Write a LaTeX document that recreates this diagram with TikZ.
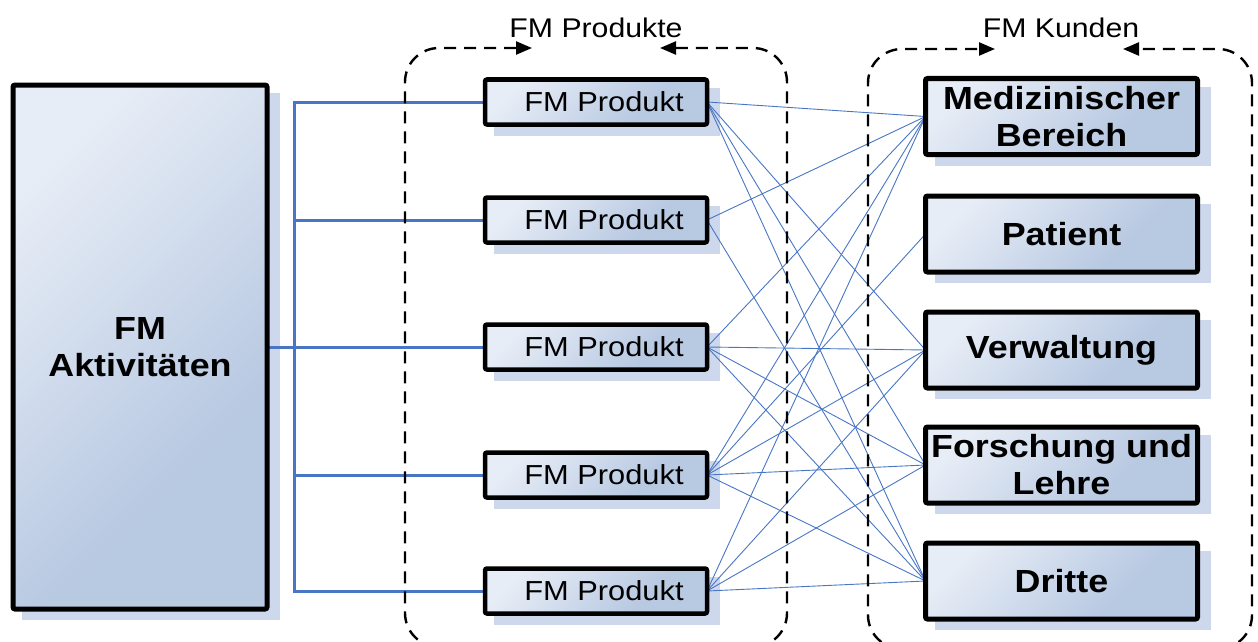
\documentclass[tikz,border=0pt]{standalone}
\usepackage{fontspec}
\setmainfont[FakeStretch=1.12]{Liberation Sans}
\usetikzlibrary{arrows.meta,calc}

\definecolor{fmwire}{RGB}{72,118,196}
\definecolor{fmshadow}{RGB}{206,216,237}

% diagonal fill: light at the upper left, darker blue towards the lower right
\pgfdeclareverticalshading{fmfade}{100bp}{%
  rgb(0bp)=(0.722,0.788,0.886); rgb(35bp)=(0.722,0.788,0.886);
  rgb(75bp)=(0.906,0.929,0.965); rgb(100bp)=(0.906,0.929,0.965)}

\pgfdeclarelayer{shadowlayer}
\pgfdeclarelayer{wirelayer}
\pgfsetlayers{shadowlayer,wirelayer,main}

\tikzset{
  fmbox/.style={draw=black, rounded corners=2pt, shade, shading=fmfade,
    shading angle=45, inner sep=0pt, outer sep=0pt, align=center},
  actbox/.style={fmbox, line width=5pt, minimum width=254pt, minimum height=524pt,
    font=\bfseries\fontsize{32}{37}\selectfont},
  prodbox/.style={fmbox, line width=4.5pt, minimum width=222pt, minimum height=45pt,
    font=\fontsize{27.5}{33}\selectfont},
  custbox/.style={fmbox, line width=5pt, minimum width=272pt, minimum height=76pt,
    font=\bfseries\fontsize{32}{37}\selectfont},
  grouplabel/.style={inner sep=0pt, font=\fontsize{27}{32}\selectfont},
  groupframe/.style={dash pattern=on 12pt off 8pt, line width=2.4pt, rounded corners=34pt,
    -{Triangle[length=16pt,width=13pt]}},
  buswire/.style={draw=fmwire, line width=3pt},
  thinwire/.style={draw=fmwire, line width=0.9pt},
  boxshadow/.style={fill=fmshadow}
}

\begin{document}
\begin{tikzpicture}[x=1pt,y=-1pt]
\useasboundingbox (0,0) rectangle (1258,642);

% activity block
\node[actbox] (act) at (140,347) {FM\\Aktivitäten};

% products
\node[prodbox] (p1) at (596,102) {\hspace*{16pt}FM Produkt};
\node[prodbox] (p2) at (596,220) {\hspace*{16pt}FM Produkt};
\node[prodbox] (p3) at (596,347) {\hspace*{16pt}FM Produkt};
\node[prodbox] (p4) at (596,475) {\hspace*{16pt}FM Produkt};
\node[prodbox] (p5) at (596,591) {\hspace*{16pt}FM Produkt};

% customers
\node[custbox] (c1) at (1061.5,116.5) {Medizinischer\\Bereich};
\node[custbox] (c2) at (1061.5,234) {Patient};
\node[custbox] (c3) at (1061.5,350) {Verwaltung};
\node[custbox] (c4) at (1061.5,465) {Forschung und\\Lehre};
\node[custbox] (c5) at (1061.5,581) {Dritte};

% group headings
\node[grouplabel] (lblprod) at (596,28) {FM Produkte};
\node[grouplabel] (lblkund) at (1061,28) {FM Kunden};

% shadows behind all blocks
\begin{pgfonlayer}{shadowlayer}
  \foreach \b in {act,p1,p2,p3,p4,p5,c1,c2,c3,c4,c5}
    \fill[boxshadow] ($(\b.north west)+(9,8)$) rectangle ($(\b.south east)+(13,11)$);
\end{pgfonlayer}

\begin{pgfonlayer}{wirelayer}
  % bus from the activity block to every product
  \coordinate (bus) at (294,347);
  \draw[buswire] (act.east) -- (p3.west);
  \draw[buswire] (p1.west) -- (p1.west -| bus) -- (p5.west -| bus) -- (p5.west);
  \draw[buswire] (p2.west) -- (p2.west -| bus);
  \draw[buswire] (p4.west) -- (p4.west -| bus);

  % product to customer links
  \foreach \p/\c in {p1/c1,p1/c3,p1/c4,p1/c5,
                     p2/c1,p2/c5,
                     p3/c1,p3/c3,p3/c4,p3/c5,
                     p4/c1,p4/c2,p4/c3,p4/c4,p4/c5,
                     p5/c1,p5/c3,p5/c4,p5/c5}
    \draw[thinwire] (\p.east) -- (\c.west);
\end{pgfonlayer}

% dashed group frames with inward arrows under the headings
\draw[groupframe] (596,647) -- (405,647) -- (405,48) -- (532,48);
\draw[groupframe] (596,647) -- (787,647) -- (787,48) -- (660,48);
\draw[groupframe] (1060,649) -- (868,649) -- (868,49) -- (995,49);
\draw[groupframe] (1060,649) -- (1252,649) -- (1252,49) -- (1123,49);
\end{tikzpicture}
\end{document}
